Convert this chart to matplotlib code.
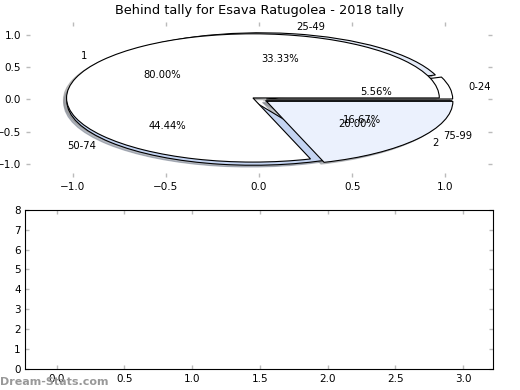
import matplotlib
matplotlib.use('Agg')
import matplotlib.pyplot as plt

# age brackets (outer pie) and the 1/2 split (pie drawn on top)
age_labels = ['0-24', '25-49', '50-74', '75-99']
age_counts = [1, 6, 8, 3]
age_colors = ['white', '#e4ebf8', '#c4d4f2', '#e9effc']

split_labels = ['1', '2']
split_counts = [4, 1]
split_colors = ['white', '#ebf1fd']

title = 'Behind tally for Esava Ratugolea - 2018 tally'


def style_ticks(ax):
    ax.tick_params(direction='in', length=3, width=1, color='#bbbbbb',
                   top=True, right=True, labelsize=7.5)


fig = plt.figure(figsize=(5.2, 3.9), dpi=100)
ax1 = fig.add_axes([0.05, 0.546, 0.896, 0.398])
ax2 = fig.add_axes([0.049, 0.054, 0.899, 0.408])

wp = dict(edgecolor='black', linewidth=0.8)
shadow = dict(ox=-0.012, oy=-0.02, shade=0.45)
ax1.pie(age_counts, explode=[0.04] * len(age_counts), labels=age_labels,
        colors=age_colors, autopct='%1.2f%%', shadow=shadow, frame=True,
        wedgeprops=wp, textprops=dict(fontsize=7.2))
ax1.pie(split_counts, explode=[0.04, 0.05], labels=split_labels,
        colors=split_colors, autopct='%1.2f%%', shadow=shadow, frame=True,
        wedgeprops=wp, textprops=dict(fontsize=7.2))
ax1.set_aspect('auto')
ax1.set_xlim(-1.25, 1.25)
ax1.set_ylim(-1.21, 1.21)
ax1.set_xticks([-1.0, -0.5, 0.0, 0.5, 1.0])
ax1.set_yticks([-1.0, -0.5, 0.0, 0.5, 1.0])
for s in ax1.spines.values():
    s.set_visible(False)
style_ticks(ax1)
ax1.set_title(title, fontsize=9.3, pad=6)

ax2.set_xlim(-0.23, 3.22)
ax2.set_ylim(0, 8)
ax2.set_xticks([0.0, 0.5, 1.0, 1.5, 2.0, 2.5, 3.0])
ax2.set_yticks(range(0, 9))
style_ticks(ax2)

fig.text(0.0, 0.008, 'Dream-Stats.com', color='#999999', fontsize=8,
         fontweight='bold', ha='left', va='bottom')

fig.savefig('out.png', dpi=100)
